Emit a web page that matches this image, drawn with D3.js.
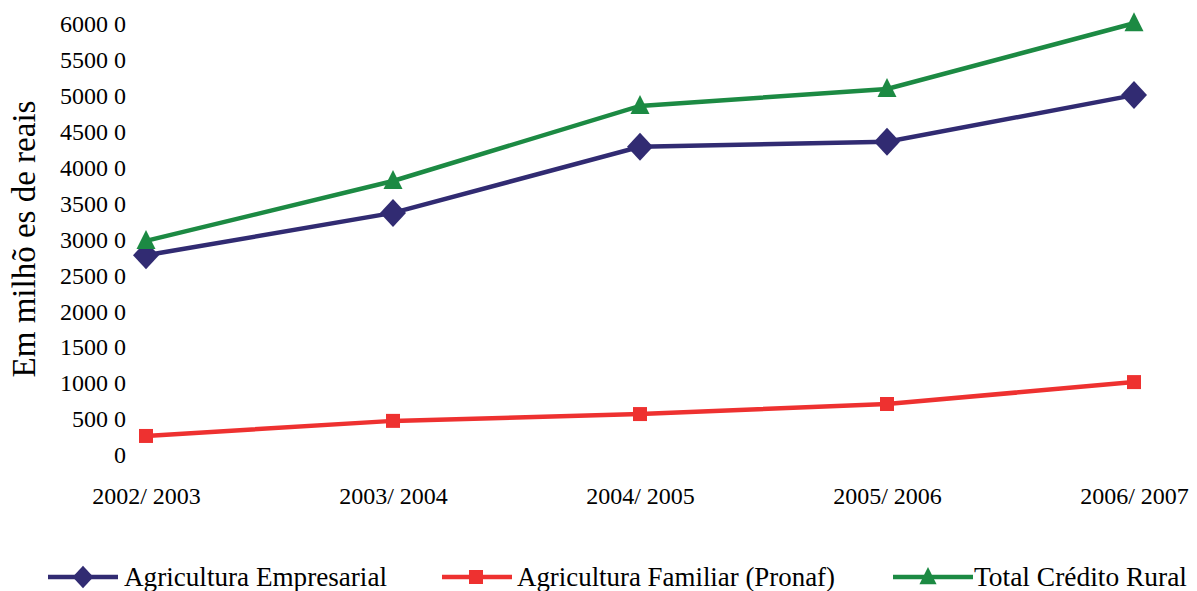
<!DOCTYPE html>
<html>
<head>
<meta charset="utf-8">
<script src="https://cdn.jsdelivr.net/npm/d3@7"></script>
<style>
  body { margin: 0; background: #fff; }
  svg text { font-family: "Liberation Serif", "Times New Roman", serif !important; fill: #000; }
</style>
</head>
<body>
<div id="chart"></div>
<script>
// Safra categories
const categories = ['2002/2003', '2003/2004', '2004/2005', '2005/2006', '2006/2007'];
const categoryLabels = ['2002/ 2003', '2003/ 2004', '2004/ 2005', '2005/ 2006', '2006/ 2007'];

// Values in millions of reais
const empresarial = [27800, 33700, 42900, 43600, 50100];
const familiar = [2650, 4750, 5700, 7100, 10150];
const total = [29800, 38150, 48600, 50950, 60100];

const yTicks = [0, 5000, 10000, 15000, 20000, 25000, 30000, 35000, 40000, 45000, 50000, 55000, 60000];
const yTickLabels = ['0', '500 0', '1000 0', '1500 0', '2000 0', '2500 0', '3000 0',
    '3500 0', '4000 0', '4500 0', '5000 0', '5500 0', '6000 0'];

const seriesNames = ['Agricultura Empresarial', 'Agricultura Familiar (Pronaf)', 'Total Crédito Rural'];
const seriesColors = ['#312b72', '#ee3130', '#1c8a43'];
const seriesShapes = ['diamond', 'square', 'triangle'];

const width = 1197, height = 591;

const svg = d3.select('#chart').append('svg')
    .attr('width', width)
    .attr('height', height);

const x = d3.scalePoint()
    .domain(categories)
    .range([146, 1134]);

const y = d3.scaleLinear()
    .domain([0, 60000])
    .range([455, 24]);

// Y axis, labels only
const yAxis = svg.append('g')
    .attr('transform', 'translate(129,0)')
    .call(d3.axisLeft(y).tickValues(yTicks).tickSize(0)
        .tickFormat((d, i) => yTickLabels[i]));
yAxis.select('.domain').remove();
yAxis.selectAll('text').attr('font-size', 24);

// X axis, labels only
const xAxis = svg.append('g')
    .attr('transform', 'translate(0,504)')
    .call(d3.axisBottom(x).tickSize(0)
        .tickFormat((d, i) => categoryLabels[i]));
xAxis.select('.domain').remove();
xAxis.selectAll('text').attr('font-size', 24).attr('y', 0).attr('dy', 0);

// Y title
svg.append('text')
    .attr('transform', 'translate(35,239) rotate(-90)')
    .attr('text-anchor', 'middle')
    .attr('font-size', 33)
    .text('Em milhõ es de reais');

function markerPath(shape) {
    if (shape === 'diamond') return 'M0,-14L13,0L0,14L-13,0Z';
    if (shape === 'square') return 'M-7,-7L7,-7L7,7L-7,7Z';
    return 'M0,-11L9.5,8L-9.5,8Z';
}

const allSeries = [empresarial, familiar, total];
const line = d3.line()
    .x((d, i) => x(categories[i]))
    .y(d => y(d));

// draw order: familiar, empresarial, total on top
[1, 0, 2].forEach(s => {
    const g = svg.append('g');
    g.append('path')
        .datum(allSeries[s])
        .attr('d', line)
        .attr('fill', 'none')
        .attr('stroke', seriesColors[s])
        .attr('stroke-width', 4.5);
    g.selectAll('path.mk')
        .data(allSeries[s])
        .join('path')
        .attr('class', 'mk')
        .attr('d', markerPath(seriesShapes[s]))
        .attr('transform', (d, i) => `translate(${x(categories[i])},${y(d)})`)
        .attr('fill', seriesColors[s]);
});

// Legend: line start/end, marker centre, text start and width
const legendLayout = [
    { x1: 48, x2: 118, mx: 83, tx: 124, tw: 263, ms: 0.8 },
    { x1: 442, x2: 512, mx: 476, tx: 517, tw: 318, ms: 1 },
    { x1: 893, x2: 973, mx: 928, tx: 974, tw: 213, ms: 0.9 }
];
const legend = svg.append('g').attr('transform', 'translate(0,577)');
seriesNames.forEach((name, s) => {
    const L = legendLayout[s];
    legend.append('line')
        .attr('x1', L.x1).attr('x2', L.x2)
        .attr('stroke', seriesColors[s])
        .attr('stroke-width', 4.5);
    legend.append('path')
        .attr('d', markerPath(seriesShapes[s]))
        .attr('transform', `translate(${L.mx},0) scale(${L.ms})`)
        .attr('fill', seriesColors[s]);
    legend.append('text')
        .attr('x', L.tx)
        .attr('y', 9)
        .attr('font-size', 27.5)
        .attr('textLength', L.tw)
        .attr('lengthAdjust', 'spacingAndGlyphs')
        .text(name);
});
</script>
</body>
</html>
